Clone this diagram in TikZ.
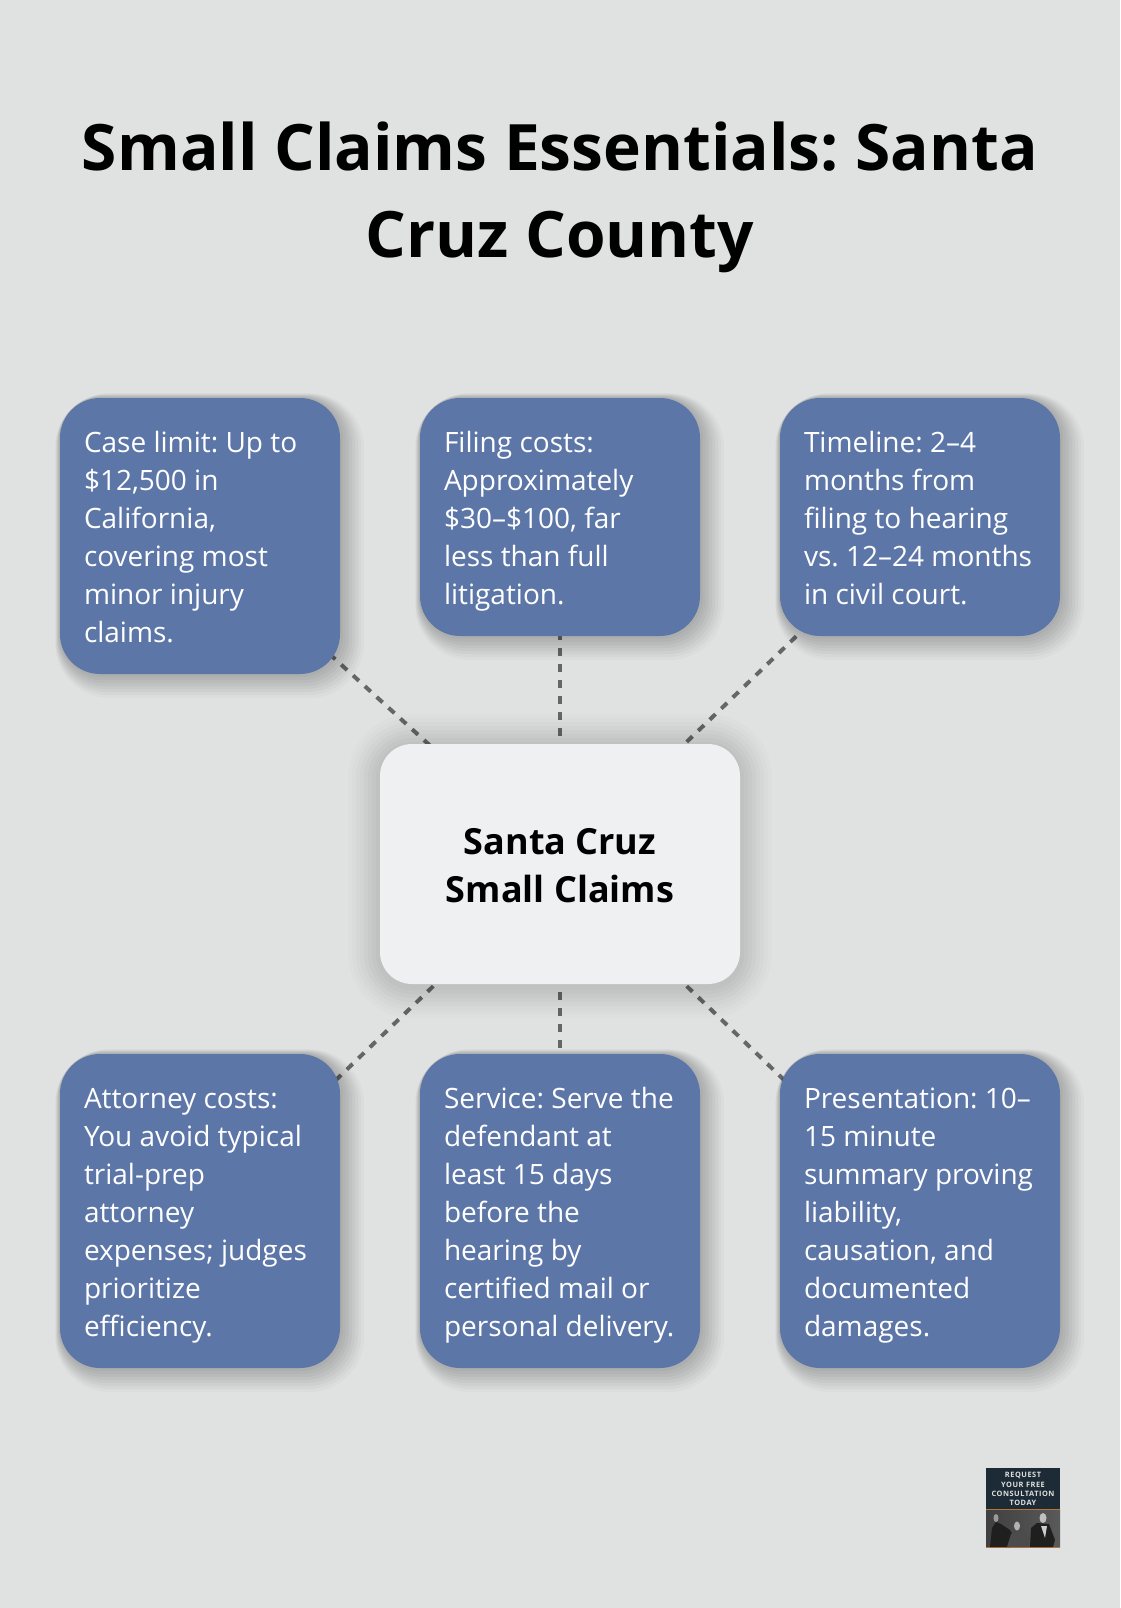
\documentclass[tikz,border=0pt]{standalone}
\usepackage{fontspec}
\setmainfont{Open Sans}
\newfontfamily\badgefont[LetterSpace=7]{Open Sans}
\frenchspacing
\hyphenpenalty=10000
\definecolor{pagegrey}{HTML}{E0E2E1}
\definecolor{cardblue}{HTML}{5D76A8}
\definecolor{hubwhite}{HTML}{EFF0F2}
\definecolor{linkgrey}{HTML}{666666}
\definecolor{badgenavy}{HTML}{1C2B35}
\definecolor{badgeorange}{HTML}{B5763A}
\pgfdeclarelayer{under}
\pgfsetlayers{under,main}
\newcommand{\cardstrut}{\rule[-7.1pt]{0pt}{38pt}}
\newcommand{\cardstart}{\rightskip=-12pt plus 1fil\relax\spaceskip=7.3pt\relax\cardstrut}
\newcommand{\hubstrut}{\rule[-9.5pt]{0pt}{48pt}}
\tikzset{softline/.style n args={4}{preaction={draw=black, draw opacity=#4, line width=#3,
             transform canvas={shift={(#1,#2)}}}},
           card/.style = {rectangle, rounded corners=40pt, fill=cardblue, text=white, inner sep=0pt,
             outer sep=0pt, minimum width=280pt, text width=232pt, align=left,
             font=\fontsize{28}{38}\selectfont,
             softline={9.6pt}{-9.6pt}{28.8pt}{.02}, softline={8.4pt}{-8.4pt}{25.2pt}{.025},
             softline={7.2pt}{-7.2pt}{21.6pt}{.03}, softline={6pt}{-6pt}{18pt}{.03},
             softline={4.8pt}{-4.8pt}{14.4pt}{.03}, softline={3.6pt}{-3.6pt}{10.8pt}{.03},
             softline={2.4pt}{-2.4pt}{7.2pt}{.03}, softline={1.2pt}{-1.2pt}{3.6pt}{.03}},
           hub/.style = {rectangle, rounded corners=32pt, fill=hubwhite, text=black, inner sep=0pt,
             outer sep=0pt, minimum width=360pt, minimum height=240pt, align=center,
             font=\fontsize{36}{48}\selectfont\bfseries,
             softline={0pt}{-2pt}{64pt}{.01}, softline={0pt}{-2pt}{56pt}{.012},
             softline={0pt}{-2pt}{48pt}{.014}, softline={0pt}{-2pt}{40pt}{.016},
             softline={0pt}{-2pt}{32pt}{.018}, softline={0pt}{-2pt}{24pt}{.02},
             softline={0pt}{-2pt}{16pt}{.02}, softline={0pt}{-2pt}{8pt}{.02}},
           heading/.style = {align=center, inner sep=0pt, text=black,
             font=\fontsize{64}{87}\selectfont\bfseries},
           link/.style = {draw=linkgrey, line width=4pt, dash pattern=on 8pt off 8pt},
           badgeline/.style = {inner sep=0pt, text=white!88!black,
             font=\fontsize{7.4}{9}\selectfont\badgefont\bfseries},
           figure/.style = {fill=black!88}}

\begin{document}
\begin{tikzpicture}[x=1pt, y=-1pt]
    \useasboundingbox (0,0) rectangle (1120,1608);
    \node[heading] (title) at (560,197) {Small Claims Essentials: Santa\\Cruz County};
    \node[hub] (center) at (560,864) {\hubstrut Santa Cruz\\Small Claims\hubstrut};

    \node[card, minimum height=276pt] (limit) at (200,536) {\cardstart Case limit: Up to\\\$12,500 in\\California,\\covering most\\minor injury\\claims.\cardstrut};
    \node[card, minimum height=238pt] (fees) at (560,517) {\cardstart Filing costs:\\Approximately\\\$30--\$100, far\\less than full\\litigation.\cardstrut};
    \node[card, minimum height=238pt] (timeline) at (920,517) {\cardstart Timeline: 2--4\\months from\\filing to hearing\\vs. 12--24 months\\in civil court.\cardstrut};
    \node[card, minimum height=314pt] (attorney) at (200,1211) {\cardstart Attorney costs:\\You avoid typical\\trial-prep\\attorney\\expenses; judges\\prioritize\\efficiency.\cardstrut};
    \node[card, minimum height=314pt] (service) at (560,1211) {\cardstart Service: Serve the\\defendant at\\least 15 days\\before the\\hearing by\\certified mail or\\personal delivery.\cardstrut};
    \node[card, minimum height=314pt] (talk) at (920,1211) {\cardstart Presentation: 10--\\15 minute\\summary proving\\liability,\\causation, and\\documented\\damages.\cardstrut};

    \begin{pgfonlayer}{under}
      \fill[pagegrey] (0,0) rectangle (1120,1608);
      \draw[link] (center.center) -- (limit.center);
      \draw[link] (center.center) -- (fees.center);
      \draw[link] (center.center) -- (timeline.center);
      \draw[link] (center.center) -- (attorney.center);
      \draw[link] (center.center) -- (service.center);
      \draw[link] (center.center) -- (talk.center);
    \end{pgfonlayer}

    % badge
    \fill[badgenavy] (986,1468) rectangle (1060,1509);
    \shade[left color=black!75, middle color=black!45, right color=black!65] (986,1509) rectangle (1060,1547);
    \fill[badgeorange] (986,1508.6) rectangle (1060,1509.8);
    \fill[badgeorange] (986,1547) rectangle (1060,1547.8);
    \node[badgeline] (req) at (1023,1475.5) {REQUEST};
    \node[badgeline] (free) at (1023,1484.5) {YOUR FREE};
    \node[badgeline] (cons) at (1023,1493.7) {CONSULTATION};
    \node[badgeline] (today) at (1023,1502.7) {TODAY};
    \fill[figure] (990,1547) -- (992,1528) -- (996,1522) -- (1001,1524) -- (1010,1530) -- (1013,1536) -- (1010,1547) -- cycle;
    \fill[black!40] (996,1518) ellipse (2.5 and 4);
    \fill[black!70] (1007,1547) -- (1011,1534) -- (1022,1531) -- (1029,1537) -- (1029,1547) -- cycle;
    \fill[black!30] (1017,1526) ellipse (3 and 4.5);
    \fill[figure] (1030,1547) -- (1031,1528) -- (1037,1523) -- (1049,1524) -- (1055,1540) -- (1053,1547) -- cycle;
    \fill[black!25] (1043,1518) ellipse (3.5 and 5);
    \fill[black!20] (1041,1526) -- (1047,1526) -- (1045,1538) -- cycle;
\end{tikzpicture}
\end{document}
